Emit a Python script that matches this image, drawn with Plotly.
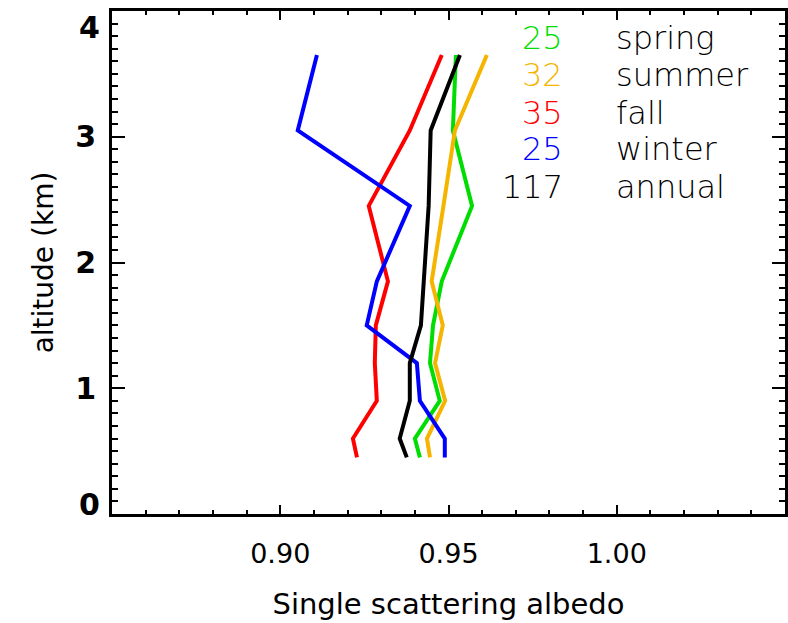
import plotly.graph_objects as go

# Altitude levels (km) of the seasonal profiles
altitude = [0.45, 0.6, 0.9, 1.2, 1.5, 1.85, 2.45, 3.05, 3.65]

# Single scattering albedo per season, bottom to top
spring = [0.9415, 0.9400, 0.9474, 0.9445, 0.9454, 0.9480, 0.9570, 0.9513, 0.9522]
summer = [0.9445, 0.9436, 0.9490, 0.9460, 0.9483, 0.9450, 0.9485, 0.9519, 0.9614]
fall = [0.9228, 0.9216, 0.9287, 0.9281, 0.9284, 0.9320, 0.9263, 0.9385, 0.9480]
winter = [0.9489, 0.9489, 0.9415, 0.9406, 0.9257, 0.9287, 0.9385, 0.9052, 0.9109]
annual = [0.9376, 0.9355, 0.9385, 0.9385, 0.9418, 0.9427, 0.9441, 0.9447, 0.9534]

season_names = ["spring", "summer", "fall", "winter", "annual"]
season_counts = ["25", "32", "35", "25", "117"]
season_colors = ["#00DD00", "#F5B400", "#FF0000", "#0000FF", "#000000"]
series = [spring, summer, fall, winter, annual]

x_tick_vals = [0.90, 0.95, 1.00]
x_tick_text = ["0.90", "0.95", "1.00"]
y_tick_vals = [0, 1, 2, 3, 4]
y_tick_text = ["0", "1", "2", "3", "4"]

fig = go.Figure()
for name, vals, col in zip(season_names, series, season_colors):
    fig.add_trace(go.Scatter(
        x=vals, y=altitude, mode="lines", name=name,
        line=dict(color=col, width=4), showlegend=False,
    ))

# Text key: sample count (coloured) and season name
row_y = [0.948, 0.874, 0.799, 0.727, 0.652]
key_font = dict(family="DejaVu Sans", size=32, weight=300)
for cnt, name, col, ry in zip(season_counts, season_names, season_colors, row_y):
    fig.add_annotation(x=0.672, y=ry, xref="paper", yref="paper", text=cnt,
                       showarrow=False, xanchor="right", yanchor="middle",
                       height=35, borderpad=0, valign="middle",
                       font=dict(key_font, color=col))
    fig.add_annotation(x=0.748, y=ry, xref="paper", yref="paper", text=name,
                       showarrow=False, xanchor="left", yanchor="middle",
                       height=35, borderpad=0, valign="middle",
                       font=dict(key_font, color="black"))

# End labels of the altitude axis, nudged inside the frame
y_label_font = dict(size=30, family="DejaVu Sans", weight="bold", color="black")
for val, txt, shift in [(y_tick_vals[0], y_tick_text[0], 10), (y_tick_vals[-1], y_tick_text[-1], -16)]:
    fig.add_annotation(x=0, y=val, xref="paper", yref="y", text=txt, showarrow=False,
                       xanchor="right", yanchor="middle", xshift=-10, yshift=shift,
                       font=y_label_font)

fig.update_layout(
    width=788, height=623,
    margin=dict(l=112, r=3, t=11, b=109, autoexpand=False),
    plot_bgcolor="white", paper_bgcolor="white",
    font=dict(family="DejaVu Sans", color="black"),
)
fig.update_xaxes(
    range=[0.85, 1.05], tickmode="array", tickvals=x_tick_vals, ticktext=x_tick_text,
    automargin=False, ticklabelposition="outside",
    showgrid=False, zeroline=False, showline=True, linecolor="black", linewidth=3,
    mirror="allticks", ticks="inside", ticklen=9, tickwidth=2, tickcolor="black",
    tickfont=dict(size=27, family="DejaVu Sans"), ticklabelstandoff=14,
    minor=dict(tickmode="linear", tick0=0.85, dtick=0.01, ticks="inside",
               ticklen=4, tickwidth=2, tickcolor="black", showgrid=False),
    title=dict(text="Single scattering albedo", font=dict(size=29, family="DejaVu Sans"),
               standoff=26),
)
fig.update_yaxes(
    range=[0, 4], tickmode="array", tickvals=y_tick_vals,
    ticktext=[""] + y_tick_text[1:-1] + [""],
    automargin=False,
    showgrid=False, zeroline=False, showline=True, linecolor="black", linewidth=3,
    mirror="allticks", ticks="inside", ticklen=13, tickwidth=2, tickcolor="black",
    tickfont=y_label_font, ticklabelstandoff=7,
    minor=dict(tickmode="linear", tick0=0, dtick=0.1, ticks="inside",
               ticklen=6, tickwidth=2, tickcolor="black", showgrid=False),
    title=dict(text="altitude (km)", font=dict(size=28, family="DejaVu Sans"),
               standoff=14),
)

fig.write_html("out.html")
